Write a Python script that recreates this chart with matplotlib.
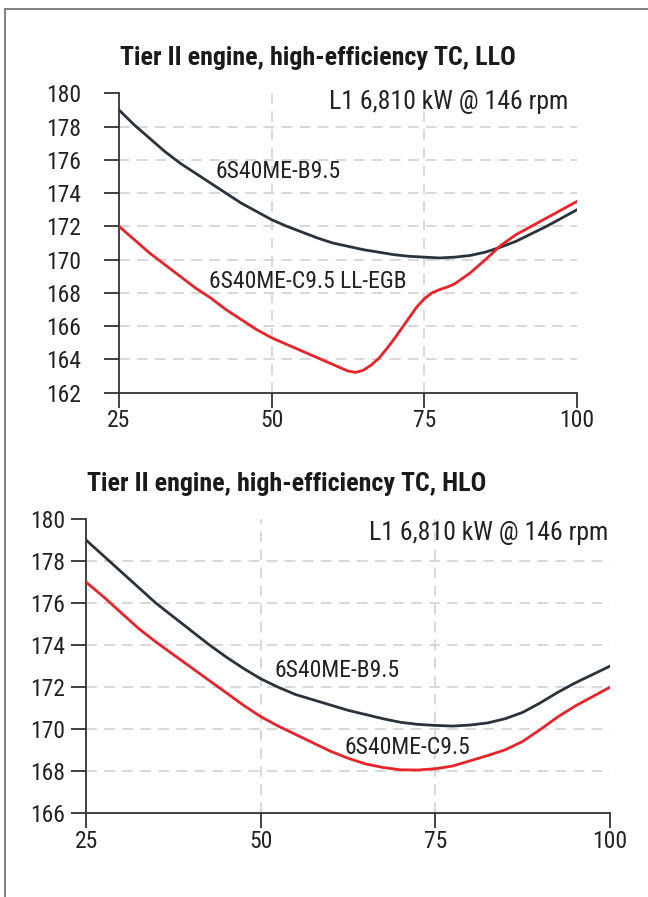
import matplotlib
matplotlib.use("Agg")
import matplotlib.pyplot as plt
from matplotlib.patches import Rectangle

plt.rcParams['font.family'] = ['Roboto Condensed', 'Liberation Sans', 'DejaVu Sans']

# load (%) on the x axis
load = [25, 27.5, 30, 32.5, 35, 37.5, 40, 42.5, 45, 47.5, 50, 52.5, 55, 57.5, 60, 62.5,
        65, 67.5, 70, 72.5, 75, 77.5, 80, 82.5, 85, 87.5, 90, 92.5, 95, 97.5, 100]

# upper chart, LLO
llo_b95 = [179.0, 178.1, 177.3, 176.5, 175.8, 175.2, 174.6, 174.0, 173.4, 172.9, 172.4,
           172.0, 171.65, 171.3, 171.0, 170.8, 170.6, 170.45, 170.3, 170.2, 170.15, 170.1,
           170.15, 170.25, 170.45, 170.75, 171.1, 171.55, 172.0, 172.5, 173.0]
# the red LLO curve has a sharp dip, so it is read at more points
llo_c95_load = [25, 27.5, 30, 32.5, 35, 37.5, 40, 42.5, 45, 47.5, 50, 52.5, 55, 57.5, 60,
                61.25, 62.5, 63.75, 65, 66.25, 67.5, 68.75, 70, 71.25, 72.5, 73.75, 75,
                76.25, 77.5, 78.75, 80, 82.5, 85, 87.5, 90, 92.5, 95, 97.5, 100]
llo_c95 = [172.0, 171.2, 170.4, 169.7, 169.0, 168.3, 167.7, 167.0, 166.4, 165.8, 165.3,
           164.9, 164.5, 164.1, 163.7, 163.5, 163.3, 163.22, 163.35, 163.65, 164.05, 164.6,
           165.2, 165.85, 166.5, 167.15, 167.65, 168.0, 168.2, 168.35, 168.55, 169.2,
           170.0, 170.85, 171.5, 172.0, 172.5, 173.0, 173.5]

# lower chart, HLO
hlo_b95 = [179.0, 178.25, 177.5, 176.75, 176.0, 175.35, 174.7, 174.05, 173.45, 172.9, 172.4,
           172.0, 171.65, 171.4, 171.15, 170.9, 170.7, 170.5, 170.33, 170.23, 170.18, 170.15,
           170.2, 170.3, 170.5, 170.8, 171.25, 171.75, 172.2, 172.6, 173.0]
hlo_c95 = [177.0, 176.3, 175.55, 174.8, 174.15, 173.55, 172.95, 172.35, 171.75, 171.15, 170.6,
           170.15, 169.75, 169.35, 168.95, 168.62, 168.35, 168.18, 168.07, 168.06, 168.12, 168.25,
           168.5, 168.75, 169.02, 169.42, 169.98, 170.58, 171.1, 171.55, 172.0]

xticks = [25, 50, 75, 100]
llo_yticks = [162, 164, 166, 168, 170, 172, 174, 176, 178, 180]
hlo_yticks = [166, 168, 170, 172, 174, 176, 178, 180]

dark = '#29333d'
red = '#e8232a'
grid_c = '#d6d6d6'
axis_c = '#333333'
text_c = '#222222'

fig = plt.figure(figsize=(6.48, 8.97), dpi=100)
fig.patches.append(Rectangle((4.5 / 648, -0.1), 2, 1.1 - 9.5 / 897, transform=fig.transFigure,
                             fill=False, edgecolor='#808080', linewidth=1.4))


def panel(rect, b95, c95_x, c95, yticks, pos_b, pos_c, pos_l1, c_text, ypad):
    ax = fig.add_axes(rect)
    ax.set_xlim(25, 100)
    ax.set_ylim(yticks[0], yticks[-1])
    for v in yticks[1:-1]:
        ax.plot([25, 100], [v, v], color=grid_c, lw=1.3, dashes=(6, 4), zorder=1)
    for v in xticks[1:-1]:
        ax.plot([v, v], [yticks[0], yticks[-1]], color=grid_c, lw=1.3, dashes=(6, 4), zorder=1)
    ax.plot(load, b95, color=dark, lw=2.0, zorder=3, solid_joinstyle='round')
    ax.plot(c95_x, c95, color=red, lw=2.0, zorder=3, solid_joinstyle='round')
    for s in ['top', 'right']:
        ax.spines[s].set_visible(False)
    for s in ['left', 'bottom']:
        ax.spines[s].set_color(axis_c)
        ax.spines[s].set_linewidth(1.3)
    ax.set_xticks(xticks)
    ax.set_yticks(yticks)
    ax.tick_params(axis='x', length=11, width=1.3, color=axis_c, pad=1, labelsize=17, labelcolor=text_c)
    ax.tick_params(axis='y', length=11, width=1.3, color=axis_c, pad=ypad, labelsize=17, labelcolor=text_c)
    ax.text(pos_b[0], pos_b[1], '6S40ME-B9.5', fontsize=17, color=text_c, va='center')
    ax.text(pos_c[0], pos_c[1], c_text, fontsize=17, color=text_c, va='center')
    ax.text(pos_l1[0], pos_l1[1], 'L1 6,810 kW @ 146 rpm', fontsize=18.5, color=text_c,
            va='center', ha='right')
    return ax


ax1 = panel([119 / 648, 1 - 392.7 / 897, 458 / 648, 299.4 / 897], llo_b95, llo_c95_load, llo_c95,
            llo_yticks, (40.85, 175.3), (39.7, 168.7), (98.6, 179.45), '6S40ME-C9.5 LL-EGB', 16)
ax2 = panel([86 / 648, 1 - 813.3 / 897, 524 / 648, 294.3 / 897], hlo_b95, load, hlo_c95,
            hlo_yticks, (52.0, 172.8), (62.05, 169.15), (99.8, 179.35), '6S40ME-C9.5', 4)

fig.text(120 / 648, 1 - 65 / 897, 'Tier II engine, high-efficiency TC, LLO', fontsize=18.7,
         fontweight='bold', color='#1a1a1a', va='baseline', ha='left')
fig.text(87 / 648, 1 - 490.7 / 897, 'Tier II engine, high-efficiency TC, HLO', fontsize=18.7,
         fontweight='bold', color='#1a1a1a', va='baseline', ha='left')

fig.savefig('out.png', dpi=100)
